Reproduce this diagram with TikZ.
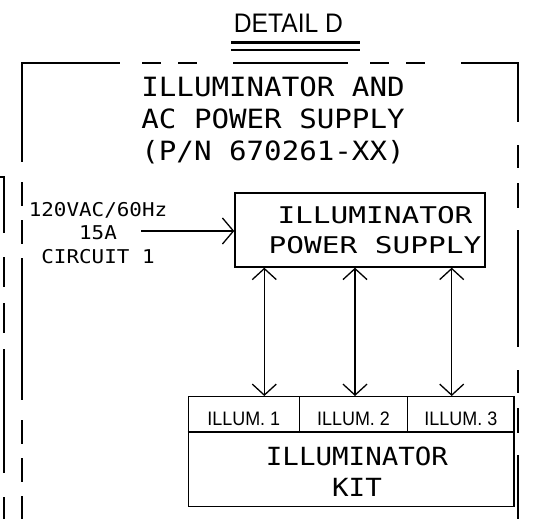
\documentclass[tikz,border=0pt]{standalone}
\usepackage{fontspec}
\usepackage{tikz}
\usetikzlibrary{arrows.meta}
\newfontfamily\cadfont{DejaVu Sans Mono}[FakeStretch=1.1]
\newfontfamily\cadwidefont{DejaVu Sans Mono}[FakeStretch=1.28]
\newfontfamily\arialfont{Liberation Sans}[FakeStretch=0.92]
\tikzset{
  box/.style={draw, line width=1.4pt, inner sep=0pt},
  cell/.style={box, minimum height=36pt, text height=22pt, font=\arialfont\fontsize{19.5}{22}\selectfont},
  cadtxt/.style={inner sep=0pt, align=center},
  frameline/.style={line width=1.8pt},
  link/.style={line width=1.4pt, {Straight Barb[length=11pt,width=24pt,line width'=1.3pt]}-{Straight Barb[length=11pt,width=24pt,line width'=1.3pt]}},
  feedline/.style={line width=2.6pt, -{Straight Barb[length=11pt,width=26pt,line width'=1.3pt]}}
}

\begin{document}
\begin{tikzpicture}[x=1pt, y=-1pt]
  \useasboundingbox (0,0) rectangle (538,519);
  % Heading
  \node[inner sep=0pt, font=\arialfont\fontsize{26.8}{30}\selectfont] (detail) at (288.4,23.5) {DETAIL D};
  \draw[line width=3.4pt] (231,42.7) -- (360,42.7);
  \draw[line width=1.5pt] (231,50) -- (360,50);
  % Phantom frames
  \draw[frameline, dash pattern=on 115pt off 22pt on 19pt off 17pt on 19pt off 36pt, dash phase=16pt] (21.1,63) -- (518.9,63);
  \draw[frameline, dash pattern=on 142pt off 20pt on 24pt off 14pt on 24pt off 14pt, dash phase=43pt] (22,63) -- (22,525);
  \draw[frameline, dash pattern=on 117pt off 23pt on 23pt off 15pt on 25pt off 22pt, dash phase=58pt] (518,63) -- (518,525);
  \draw[frameline, dash pattern=on 124pt off 24pt on 30pt off 16pt on 30pt off 16pt, dash phase=62pt] (-2,177) -- (4,177) -- (4,525);
  \node[cadtxt, font=\cadfont\fontsize{26.5}{32}\selectfont] (title) at (273,120.5) {ILLUMINATOR AND\\AC POWER SUPPLY\\(P/N 670261-XX)};
  % Supply
  \node[cadtxt, font=\cadfont\fontsize{19}{23.5}\selectfont] (mains) at (98,233) {120VAC/60Hz\\15A\\CIRCUIT 1};
  \node[box, minimum width=250pt, minimum height=74pt] (ps) at (360,230) {};
  \node[cadtxt, font=\cadwidefont\fontsize{23}{30}\selectfont] (pstext) at (375,230) {ILLUMINATOR\\POWER SUPPLY};
  \coordinate (feed) at (141,231);
  \draw[feedline] (feed) -- (feed -| ps.west);
  % Kit
  \node[cell, minimum width=111pt] (il1) at (243.8,414.7) {ILLUM. 1};
  \node[cell, minimum width=108.4pt] (il2) at (353.5,414.7) {ILLUM. 2};
  \node[cell, minimum width=106.3pt] (il3) at (460.85,414.7) {ILLUM. 3};
  \node[box, minimum width=325.7pt, minimum height=74pt] (kit) at (351.15,469.7) {};
  \draw[line width=2.6pt] (kit.north west) -- (kit.north east);
  \node[cadtxt, font=\cadfont\fontsize{25}{31}\selectfont] (kittext) at (357,471.5) {ILLUMINATOR\\KIT};
  % Links
  \coordinate (x1) at (264.3,0);
  \coordinate (x2) at (355,0);
  \coordinate (x3) at (451.7,0);
  \draw[link] (x1 |- ps.south) -- (x1 |- il1.north);
  \draw[link] (x2 |- ps.south) -- (x2 |- il2.north);
  \draw[link] (x3 |- ps.south) -- (x3 |- il3.north);
\end{tikzpicture}
\end{document}
